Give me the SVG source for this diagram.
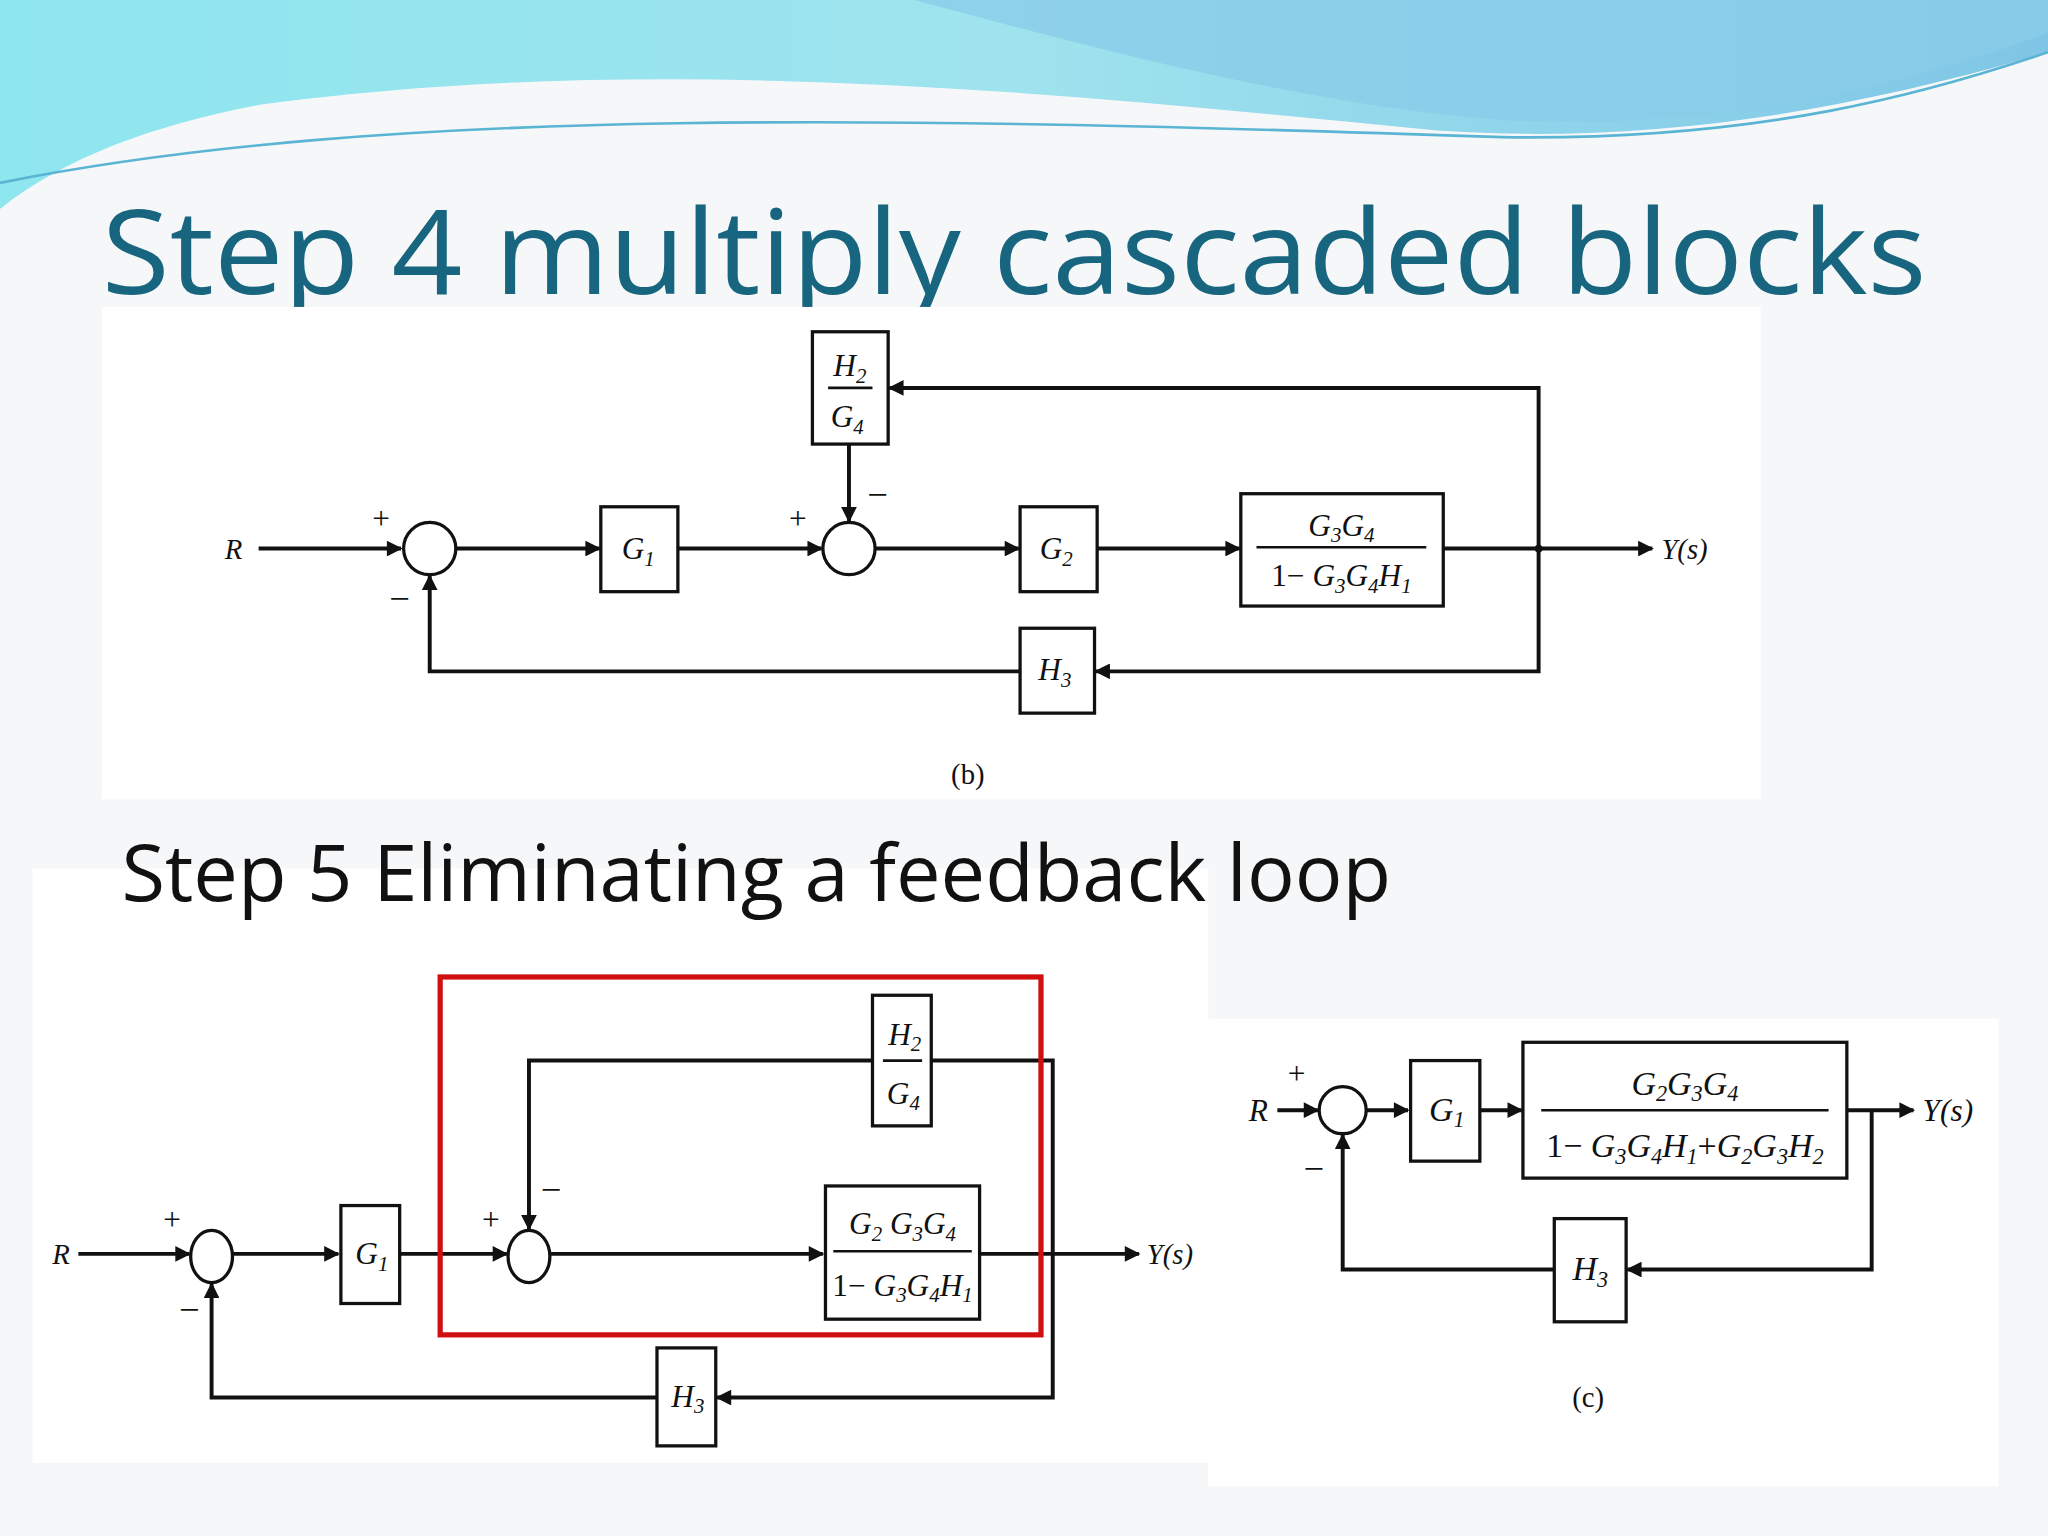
<svg xmlns="http://www.w3.org/2000/svg" width="2048" height="1536" viewBox="0 0 2048 1536">
<defs>
<linearGradient id="wv" x1="0" y1="0" x2="1" y2="0"><stop offset="0" stop-color="#8ee6ef"/><stop offset="0.5" stop-color="#9fe3ee"/><stop offset="1" stop-color="#7fc6e6"/></linearGradient>
<marker id="ah" viewBox="0 0 10 10" refX="9" refY="5" markerWidth="15" markerHeight="12" markerUnits="userSpaceOnUse" orient="auto"><path d="M0,0 L10,5 L0,10 z" fill="#111"/></marker>
<style>
.ln{stroke:#111;stroke-width:3;fill:none}
.bx{stroke:#111;stroke-width:2.5;fill:#fff}
.m{font-family:"Liberation Serif",serif;font-style:italic;fill:#111}
.s{font-family:"Liberation Serif",serif;fill:#111}
</style>
</defs>
<g transform="scale(1.30612)">
<rect width="1568" height="1176" fill="#f6f7f9"/>
<path d="M0,0 H1568 V40 C1400,90 1250,110 1100,100 C800,70 500,40 200,80 C120,95 50,120 0,160 Z" fill="url(#wv)"/>
<path d="M700,0 C850,40 1000,80 1150,92 C1300,100 1450,70 1568,25 V0 Z" fill="#89cce9" opacity="0.8"/>
<path d="M0,140 C300,80 700,90 1150,105 C1350,108 1480,70 1568,40" stroke="#5ab4d4" stroke-width="2" fill="none"/>
<text x="78" y="225" font-family="Open Sans, sans-serif" font-size="90" fill="#17657e" textLength="1397" lengthAdjust="spacingAndGlyphs">Step 4 multiply cascaded blocks</text>
<rect x="78" y="235" width="1270" height="377" fill="#fff"/>
<rect x="25" y="665" width="900" height="455" fill="#fff"/>
<rect x="925" y="780" width="605" height="358" fill="#fff"/>
<text x="93" y="690" font-family="Open Sans, sans-serif" font-size="60" fill="#111" textLength="972" lengthAdjust="spacingAndGlyphs">Step 5 Eliminating a feedback loop</text>

<g id="connectors">
<path class="ln" d="M198,420 H307" marker-end="url(#ah)"/>
<path class="ln" d="M349,420 H459" marker-end="url(#ah)"/>
<path class="ln" d="M519,420 H629" marker-end="url(#ah)"/>
<path class="ln" d="M650,340 V399" marker-end="url(#ah)"/>
<path class="ln" d="M670,420 H780" marker-end="url(#ah)"/>
<path class="ln" d="M840,420 H949" marker-end="url(#ah)"/>
<path class="ln" d="M1105,420 H1265" marker-end="url(#ah)"/>
<path class="ln" d="M1178,420 V297 H681" marker-end="url(#ah)"/>
<path class="ln" d="M1178,420 V514 H839" marker-end="url(#ah)"/>
<path class="ln" d="M781,514 H329 V441" marker-end="url(#ah)"/>
<circle cx="1178" cy="420" r="3" fill="#111"/>

<path class="ln" d="M60,960 H145" marker-end="url(#ah)"/>
<path class="ln" d="M178,960 H259" marker-end="url(#ah)"/>
<path class="ln" d="M306,960 H388" marker-end="url(#ah)"/>
<path class="ln" d="M806,960 V812 H713"/>
<path class="ln" d="M668,812 H405 V941" marker-end="url(#ah)"/>
<path class="ln" d="M421,960 H630" marker-end="url(#ah)"/>
<path class="ln" d="M750,960 H872" marker-end="url(#ah)"/>
<path class="ln" d="M806,960 V1070 H549" marker-end="url(#ah)"/>
<path class="ln" d="M503,1070 H162 V983" marker-end="url(#ah)"/>

<path class="ln" d="M978,850 H1009" marker-end="url(#ah)"/>
<path class="ln" d="M1046,850 H1078" marker-end="url(#ah)"/>
<path class="ln" d="M1133,850 H1165" marker-end="url(#ah)"/>
<path class="ln" d="M1414,850 H1465" marker-end="url(#ah)"/>
<path class="ln" d="M1433,850 V972 H1246" marker-end="url(#ah)"/>
<path class="ln" d="M1190,972 H1028 V869" marker-end="url(#ah)"/>
</g>

<g id="b-labels">
<text x="172" y="428" class="m" font-size="22">R</text>
<text x="1272" y="428" class="m" font-size="22">Y(s)</text>
<text x="285" y="405" class="s" font-size="24">+</text>
<text x="298" y="468" class="s" font-size="28">−</text>
<text x="604" y="405" class="s" font-size="24">+</text>
<text x="664" y="388" class="s" font-size="28">−</text>
<text x="741" y="600" class="s" font-size="22" text-anchor="middle">(b)</text>
</g>
<g id="b-sum1"><circle cx="329" cy="420" r="20" class="bx"/></g>
<g id="b-sum2"><circle cx="650" cy="420" r="20" class="bx"/></g>
<g id="b-G1"><rect x="460" y="388" width="59" height="65" class="bx"/><text x="476" y="428" class="m" font-size="24">G<tspan font-size="16" dy="5">1</tspan></text></g>
<g id="b-H2G4"><rect x="622" y="254" width="58" height="86" class="bx"/><text x="638" y="288" class="m" font-size="24">H<tspan font-size="16" dy="5">2</tspan></text><line x1="634" y1="297" x2="668" y2="297" stroke="#111" stroke-width="2"/><text x="636" y="327" class="m" font-size="24">G<tspan font-size="16" dy="5">4</tspan></text></g>
<g id="b-G2"><rect x="781" y="388" width="59" height="65" class="bx"/><text x="796" y="428" class="m" font-size="24">G<tspan font-size="16" dy="5">2</tspan></text></g>
<g id="b-G34"><rect x="950" y="378" width="155" height="86" class="bx"/><text x="1027" y="410" class="m" font-size="24" text-anchor="middle">G<tspan font-size="16" dy="5">3</tspan><tspan dy="-5">G</tspan><tspan font-size="16" dy="5">4</tspan></text><line x1="962" y1="419" x2="1092" y2="419" stroke="#111" stroke-width="2"/><text x="1027" y="449" class="m" font-size="24" text-anchor="middle"><tspan font-style="normal">1− </tspan>G<tspan font-size="16" dy="5">3</tspan><tspan dy="-5">G</tspan><tspan font-size="16" dy="5">4</tspan><tspan dy="-5">H</tspan><tspan font-size="16" dy="5">1</tspan></text></g>
<g id="b-H3"><rect x="781" y="481" width="57" height="65" class="bx"/><text x="795" y="521" class="m" font-size="24">H<tspan font-size="16" dy="5">3</tspan></text></g>

<g id="d-labels">
<text x="40" y="968" class="m" font-size="22">R</text>
<text x="878" y="968" class="m" font-size="22">Y(s)</text>
<text x="125" y="942" class="s" font-size="24">+</text>
<text x="137" y="1012" class="s" font-size="28">−</text>
<text x="369" y="942" class="s" font-size="24">+</text>
<text x="414" y="920" class="s" font-size="28">−</text>
</g>
<g id="d-sum1"><ellipse cx="162" cy="962" rx="16" ry="20" class="bx"/></g>
<g id="d-sum2"><ellipse cx="405" cy="962" rx="16" ry="20" class="bx"/></g>
<g id="d-G1"><rect x="261" y="923" width="45" height="75" class="bx"/><text x="272" y="968" class="m" font-size="24">G<tspan font-size="16" dy="5">1</tspan></text></g>
<g id="d-H2G4"><rect x="668" y="762" width="45" height="100" class="bx"/><text x="680" y="800" class="m" font-size="24">H<tspan font-size="16" dy="5">2</tspan></text><line x1="676" y1="812" x2="706" y2="812" stroke="#111" stroke-width="2"/><text x="679" y="845" class="m" font-size="24">G<tspan font-size="16" dy="5">4</tspan></text></g>
<g id="d-main"><rect x="632" y="908" width="118" height="102" class="bx"/><text x="691" y="945" class="m" font-size="24" text-anchor="middle">G<tspan font-size="16" dy="5">2</tspan><tspan dy="-5"> G</tspan><tspan font-size="16" dy="5">3</tspan><tspan dy="-5">G</tspan><tspan font-size="16" dy="5">4</tspan></text><line x1="638" y1="958" x2="744" y2="958" stroke="#111" stroke-width="2"/><text x="691" y="992" class="m" font-size="24" text-anchor="middle"><tspan font-style="normal">1− </tspan>G<tspan font-size="16" dy="5">3</tspan><tspan dy="-5">G</tspan><tspan font-size="16" dy="5">4</tspan><tspan dy="-5">H</tspan><tspan font-size="16" dy="5">1</tspan></text></g>
<g id="d-H3"><rect x="503" y="1032" width="45" height="75" class="bx"/><text x="514" y="1077" class="m" font-size="24">H<tspan font-size="16" dy="5">3</tspan></text></g>
<g id="d-red"><rect x="337" y="748" width="460" height="274" fill="none" stroke="#d01010" stroke-width="4"/></g>

<g id="c-labels">
<text x="956" y="858" class="m" font-size="24">R</text>
<text x="1472" y="858" class="m" font-size="24">Y(s)</text>
<text x="986" y="830" class="s" font-size="24">+</text>
<text x="998" y="904" class="s" font-size="28">−</text>
<text x="1216" y="1077" class="s" font-size="22" text-anchor="middle">(c)</text>
</g>
<g id="c-sum"><circle cx="1028" cy="850" r="18" class="bx"/></g>
<g id="c-G1"><rect x="1080" y="812" width="53" height="77" class="bx"/><text x="1094" y="858" class="m" font-size="26">G<tspan font-size="17" dy="5">1</tspan></text></g>
<g id="c-main"><rect x="1166" y="798" width="248" height="104" class="bx"/><text x="1290" y="838" class="m" font-size="26" text-anchor="middle">G<tspan font-size="17" dy="5">2</tspan><tspan dy="-5">G</tspan><tspan font-size="17" dy="5">3</tspan><tspan dy="-5">G</tspan><tspan font-size="17" dy="5">4</tspan></text><line x1="1180" y1="850" x2="1400" y2="850" stroke="#111" stroke-width="2"/><text x="1290" y="886" class="m" font-size="26" text-anchor="middle"><tspan font-style="normal">1− </tspan>G<tspan font-size="17" dy="5">3</tspan><tspan dy="-5">G</tspan><tspan font-size="17" dy="5">4</tspan><tspan dy="-5">H</tspan><tspan font-size="17" dy="5">1</tspan><tspan dy="-5" font-style="normal">+</tspan><tspan>G</tspan><tspan font-size="17" dy="5">2</tspan><tspan dy="-5">G</tspan><tspan font-size="17" dy="5">3</tspan><tspan dy="-5">H</tspan><tspan font-size="17" dy="5">2</tspan></text></g>
<g id="c-H3"><rect x="1190" y="933" width="55" height="79" class="bx"/><text x="1204" y="980" class="m" font-size="26">H<tspan font-size="17" dy="5">3</tspan></text></g>
</g>
</svg>
